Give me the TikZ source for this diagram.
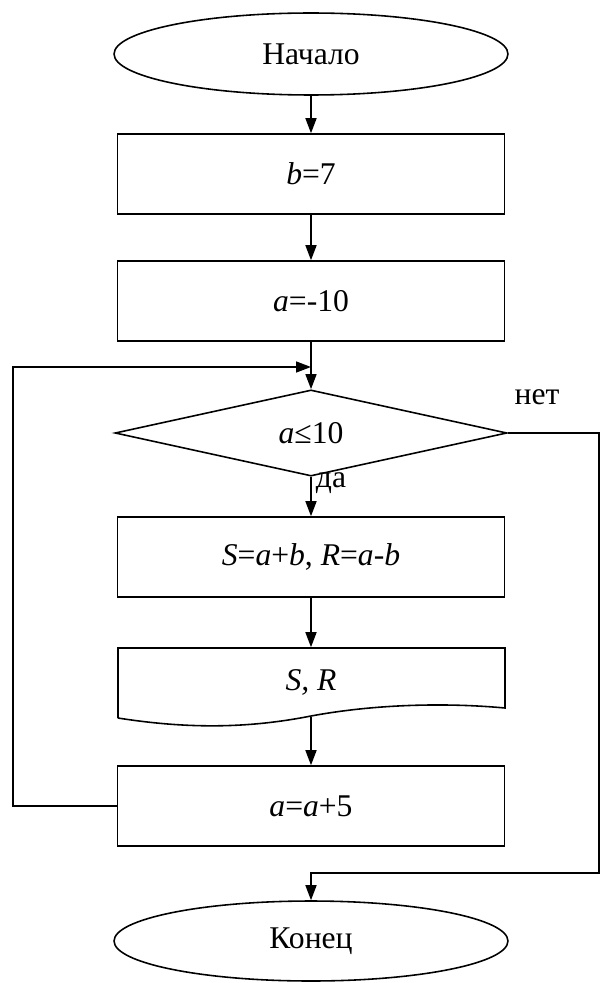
\documentclass[tikz,border=0pt]{standalone}
\usepackage{fontspec}
\setmainfont{Liberation Serif}
\usetikzlibrary{shapes.geometric,arrows.meta}

\begin{document}
\begin{tikzpicture}[x=0.02cm, y=-0.02cm, line width=0.9pt,
        every node/.style={font=\fontsize{18}{21}\selectfont},
        term/.style={draw, ellipse, inner sep=0, minimum width=7.88cm, minimum height=1.64cm},
        proc/.style={draw, rectangle, inner sep=0, minimum width=7.74cm, minimum height=1.6cm},
        cond/.style={draw, diamond, inner sep=0, minimum width=7.84cm, minimum height=1.6cm},
        flow/.style={-{Triangle[length=0.3cm, width=0.22cm]}}]
        \useasboundingbox (0,0) rectangle (601,983);
        \node[term] (start) at (311,54) {Начало};
        \node[proc] (setb) at (311,174) {\textit{b}=7};
        \node[proc] (seta) at (311,301) {\textit{a}=-10};
        \coordinate (join) at (311,367);
        \node[cond] (test) at (311,433) {\textit{a}≤10};
        \node (no) at (537,397) {нет};
        \node (yes) at (331,483) {да};
        \node[proc] (calc) at (311,557) {\textit{S}=\textit{a}+\textit{b}, \textit{R}=\textit{a}-\textit{b}};
        \draw (118,718) -- (118,648) -- (505,648) -- (505,708) 
        .. controls (440,702) and (370,705) .. (311,716) 
        .. controls (260,726) and (200,731) .. (118,718);
        \node[minimum height=1.36cm, inner sep=0] (show) at (311,682) {\textit{S, R}};
        \node[proc] (step) at (311,806) {\textit{a}=\textit{a}+5};
        \node[term, minimum height=1.6cm] (stop) at (311,941) {Конец};
        \draw[flow] (start) -- (setb);
        \draw[flow] (setb) -- (seta);
        \draw[flow] (seta) -- (test);
        \draw[flow] (test) -- (calc);
        \draw[flow] (calc) -- (show.north);
        \draw[flow] (show.south) -- (step);
        \draw[flow] (step.west) -- (13,806) |- (join);
        \draw[flow] (test.east) -- (599,433) -- (599,873) -| (stop.north);
    \end{tikzpicture}
\end{document}
